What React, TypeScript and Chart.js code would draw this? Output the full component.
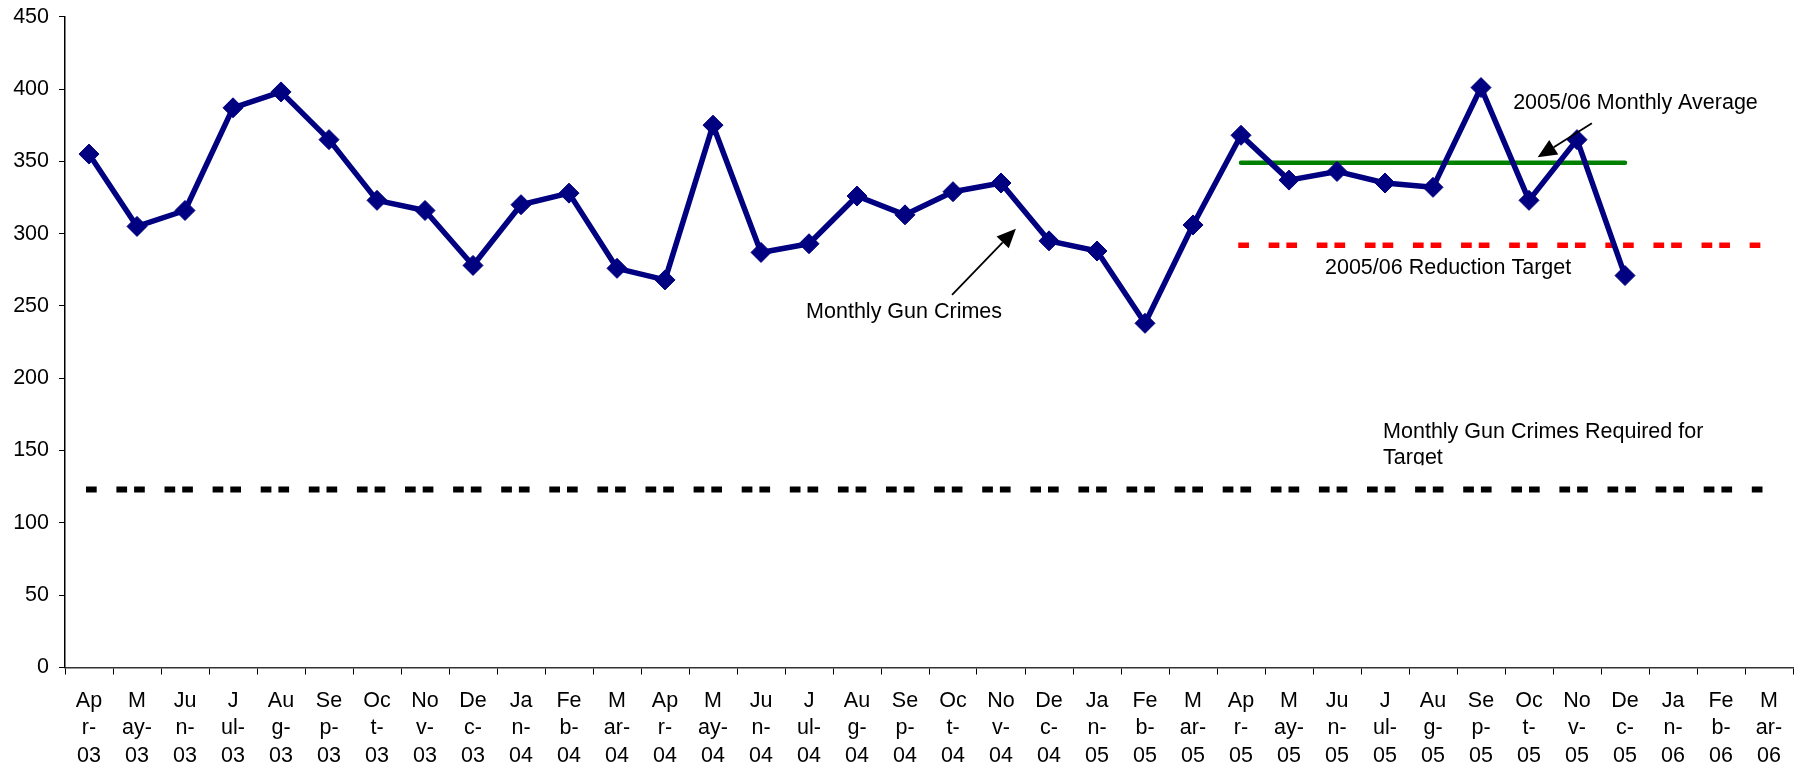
import React, { useEffect, useRef } from "react";
import { Chart, registerables } from "chart.js";

Chart.register(...registerables);

const FONT = "'Liberation Sans', Arial, Helvetica, sans-serif";

// ---- data ----
const categories = [
  "Apr-03", "May-03", "Jun-03", "Jul-03", "Aug-03", "Sep-03", "Oct-03", "Nov-03", "Dec-03",
  "Jan-04", "Feb-04", "Mar-04", "Apr-04", "May-04", "Jun-04", "Jul-04", "Aug-04", "Sep-04",
  "Oct-04", "Nov-04", "Dec-04", "Jan-05", "Feb-05", "Mar-05", "Apr-05", "May-05", "Jun-05",
  "Jul-05", "Aug-05", "Sep-05", "Oct-05", "Nov-05", "Dec-05", "Jan-06", "Feb-06", "Mar-06",
];

// how the narrow category labels wrap (month part split over two lines, year on third)
const monthWrap: Record<string, [string, string]> = {
  Apr: ["Ap", "r-"], May: ["M", "ay-"], Jun: ["Ju", "n-"], Jul: ["J", "ul-"],
  Aug: ["Au", "g-"], Sep: ["Se", "p-"], Oct: ["Oc", "t-"], Nov: ["No", "v-"],
  Dec: ["De", "c-"], Jan: ["Ja", "n-"], Feb: ["Fe", "b-"], Mar: ["M", "ar-"],
};

const monthlyGunCrimes: (number | null)[] = [
  355, 305, 316, 387, 398, 365, 323, 316, 278,
  320, 328, 276, 268, 375, 287, 293, 326, 313,
  329, 335, 295, 288, 238, 306, 368, 337, 343,
  335, 332, 401, 323, 365, 271, null, null, null,
];

const averageValue = 349;
const averageMonths = ["Apr-05", "May-05", "Jun-05", "Jul-05", "Aug-05", "Sep-05", "Oct-05", "Nov-05", "Dec-05"];

const reductionTargetValue = 292;
const reductionMonths = [
  "Apr-05", "May-05", "Jun-05", "Jul-05", "Aug-05", "Sep-05",
  "Oct-05", "Nov-05", "Dec-05", "Jan-06", "Feb-06", "Mar-06",
];

const requiredValue = 123;

const yMin = 0;
const yMax = 450;
const yStep = 50;

// annotation text, anchored in data coordinates (category index, value)
const notes = [
  { lines: ["Monthly Gun Crimes"], x: 14.94, y: 242 },
  { lines: ["2005/06 Monthly Average"], x: 29.67, y: 386 },
  { lines: ["2005/06 Reduction Target"], x: 25.75, y: 272 },
  { lines: ["Monthly Gun Crimes Required for", "Target"], x: 26.96, y: 158.5, clip: true },
];

const arrows = [
  { from: [17.98, 257.6], to: [19.31, 303.4] },
  { from: [31.31, 376.3], to: [30.18, 352.8] },
];

const notesPlugin = {
  id: "notesPlugin",
  afterDatasetsDraw(chart: any) {
    const { ctx } = chart;
    const xs = chart.scales.x;
    const ys = chart.scales.y;
    ctx.save();
    ctx.fillStyle = "#000";
    ctx.font = `21.5px ${FONT}`;
    ctx.textAlign = "left";
    ctx.textBaseline = "alphabetic";
    const lineGap = 25.5;
    for (const n of notes) {
      const px = xs.getPixelForValue(n.x);
      const py = ys.getPixelForValue(n.y);
      ctx.save();
      if (n.clip) {
        ctx.beginPath();
        ctx.rect(px - 10, py - 40, 500, 40 + lineGap * (n.lines.length - 1) + 1.5);
        ctx.clip();
      }
      n.lines.forEach((l, i) => ctx.fillText(l, px, py + i * lineGap));
      ctx.restore();
    }
    for (const a of arrows) {
      const x1 = xs.getPixelForValue(a.from[0]);
      const y1 = ys.getPixelForValue(a.from[1]);
      const x2 = xs.getPixelForValue(a.to[0]);
      const y2 = ys.getPixelForValue(a.to[1]);
      const ang = Math.atan2(y2 - y1, x2 - x1);
      const headLen = 19;
      const headHalf = 8.5;
      const bx = x2 - headLen * Math.cos(ang);
      const by = y2 - headLen * Math.sin(ang);
      ctx.strokeStyle = "#000";
      ctx.lineWidth = 1.8;
      ctx.beginPath();
      ctx.moveTo(x1, y1);
      ctx.lineTo(bx, by);
      ctx.stroke();
      ctx.beginPath();
      ctx.moveTo(x2, y2);
      ctx.lineTo(bx + headHalf * Math.sin(ang), by - headHalf * Math.cos(ang));
      ctx.lineTo(bx - headHalf * Math.sin(ang), by + headHalf * Math.cos(ang));
      ctx.closePath();
      ctx.fill();
    }
    ctx.restore();
  },
};

export default function App() {
  const canvasRef = useRef<HTMLCanvasElement | null>(null);

  useEffect(() => {
    const canvas = canvasRef.current;
    if (!canvas) return;

    const labels = categories.map((c) => {
      const [m, y] = c.split("-");
      return [monthWrap[m][0], monthWrap[m][1], y];
    });
    const averageData = categories.map((c) => (averageMonths.includes(c) ? averageValue : null));
    const reductionData = categories.map((c) => (reductionMonths.includes(c) ? reductionTargetValue : null));
    const requiredData = categories.map(() => requiredValue);

    const chart = new Chart(canvas, {
      type: "line",
      data: {
        labels,
        datasets: [
          {
            label: "Monthly Gun Crimes",
            data: monthlyGunCrimes,
            borderColor: "#000080",
            backgroundColor: "#000080",
            borderWidth: 5.5,
            pointStyle: "rectRot",
            pointRadius: 10,
            pointBorderWidth: 1,
            pointBackgroundColor: "#000080",
            pointBorderColor: "#000080",
            tension: 0,
            spanGaps: false,
            borderJoinStyle: "round",
          },
          {
            label: "2005/06 Monthly Average",
            data: averageData,
            borderColor: "#008000",
            borderWidth: 4.5,
            pointRadius: 0,
            borderCapStyle: "round",
          },
          {
            label: "2005/06 Reduction Target",
            data: reductionData,
            borderColor: "#ff0000",
            borderWidth: 5.5,
            pointRadius: 0,
            borderDash: [5.2, 12.5, 5.2, 25.2],
            borderDashOffset: 17.7,
            borderCapStyle: "square",
          },
          {
            label: "Monthly Gun Crimes Required for Target",
            data: requiredData,
            borderColor: "#000000",
            borderWidth: 6,
            pointRadius: 0,
            borderDash: [4.7, 13, 4.7, 25.7],
            borderDashOffset: 17.7,
            borderCapStyle: "square",
          },
        ],
      },
      options: {
        animation: false,
        responsive: false,
        maintainAspectRatio: false,
        devicePixelRatio: 1,
        layout: { padding: { left: 0, top: 16.7, right: 7, bottom: 0 } },
        plugins: {
          legend: { display: false },
          tooltip: { enabled: false },
          title: { display: false },
        },
        scales: {
          x: {
            type: "category",
            offset: true,
            grid: {
              offset: true,
              drawOnChartArea: false,
              drawTicks: true,
              tickLength: 7,
              color: "#000",
              lineWidth: 1,
            },
            border: { display: true, color: "#333", width: 1.5 },
            ticks: {
              autoSkip: false,
              maxRotation: 0,
              minRotation: 0,
              padding: 12.5,
              color: "#000",
              font: { family: FONT, size: 21.5, lineHeight: 1.28 },
            },
            afterFit(scale: any) {
              scale.height = 102.5;
              scale.paddingLeft = 0;
              scale.paddingRight = 0;
            },
          },
          y: {
            min: yMin,
            max: yMax,
            ticks: {
              stepSize: yStep,
              padding: 10,
              color: "#000",
              font: { family: FONT, size: 21.5 },
            },
            grid: {
              drawOnChartArea: false,
              drawTicks: true,
              tickLength: 6,
              color: "#000",
            },
            border: { display: true, color: "#000", width: 1.5 },
            afterFit(scale: any) {
              scale.width = 65;
              scale.paddingTop = 0;
              scale.paddingBottom = 0;
            },
          },
        },
      },
      plugins: [notesPlugin],
    } as any);

    return () => chart.destroy();
  }, []);

  return (
    <div style={{ position: "fixed", left: 0, top: 0, width: 1804, height: 770, background: "#fff" }}>
      <canvas ref={canvasRef} width={1804} height={770} style={{ display: "block", width: 1804, height: 770 }} />
    </div>
  );
}
